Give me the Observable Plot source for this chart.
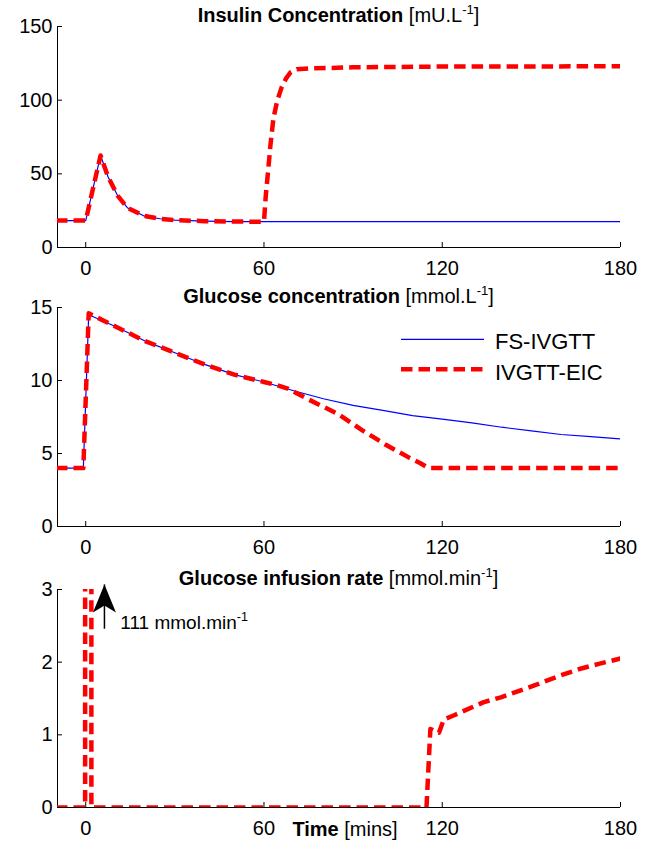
<!DOCTYPE html>
<html>
<head>
<meta charset="utf-8">
<script src="https://cdn.jsdelivr.net/npm/d3@7"></script>
<script src="https://cdn.jsdelivr.net/npm/@observablehq/plot@0.6"></script>
<style>
  body { margin: 0; background: #fff; }
  #chart { width: 666px; height: 852px; position: relative; }
  #chart svg { display: block; }
</style>
</head>
<body>
<div id="chart"></div>
<script>
// ---------- data ----------
const xTicks = [0, 60, 120, 180];
const xDomain = [-9.5, 180];

// Insulin concentration [mU/L]
const insulinTicks = [0, 50, 100, 150];
const insulinFsT = [-10, 0, 5, 7.5, 10.8, 14, 19.5, 25, 30, 40, 50, 60, 180];
const insulinFsV = [18.3, 18.3, 62.5, 48, 35, 27, 21.5, 19.5, 18.6, 17.9, 17.6, 17.5, 17.5];
const insulinEicT = [-10, 0, 5, 7.5, 10.8, 14, 19.5, 25, 30, 40, 50, 60, 60.6, 61.3, 62.2, 63.2, 64.5, 66, 67.5, 69, 71, 75, 90, 120, 180];
const insulinEicV = [18.3, 18.3, 62.5, 48, 35, 27, 21.5, 19.5, 18.6, 17.9, 17.6, 17.5, 35, 50, 70, 88, 100, 109, 115, 119, 121, 121.5, 122.3, 122.8, 123];

// Glucose concentration [mmol/L]
const glucoseTicks = [0, 5, 10, 15];
const glucoseFsT = [-10, -0.8, 1, 10, 20, 30, 40, 50, 60, 70, 80, 90, 100, 110, 120, 130, 140, 150, 160, 170, 180];
const glucoseFsV = [4, 4, 14.5, 13.7, 12.7, 11.9, 11.1, 10.4, 9.9, 9.3, 8.75, 8.3, 7.95, 7.6, 7.35, 7.1, 6.8, 6.55, 6.3, 6.15, 6.0];
const glucoseEicT = [-10, -0.8, 1, 10, 20, 30, 40, 50, 60, 64, 68, 75, 80, 85, 89, 93, 97, 101, 105, 109, 112.5, 115, 116, 180];
const glucoseEicV = [4, 4, 14.6, 13.7, 12.7, 11.9, 11.1, 10.4, 9.9, 9.7, 9.45, 8.7, 8.2, 7.7, 7.15, 6.6, 6.1, 5.6, 5.15, 4.7, 4.35, 4.05, 4.0, 4.0];

// Glucose infusion rate [mmol/min]
const infusionTicks = [0, 1, 2, 3];
const infusionEicT = [-10, -0.2, -0.2, 1.9, 1.9, 114.7, 116, 118.9, 120.5, 124, 134, 140, 151, 160, 166.5, 173, 180];
const infusionEicV = [0, 0, 111, 111, 0, 0, 1.08, 1.03, 1.21, 1.27, 1.45, 1.52, 1.68, 1.82, 1.91, 1.98, 2.05];

// bolus annotation (data coordinates)
const arrowX = [6.3], arrowTip = [3.07], arrowTail = [2.46];
const noteX = [11.8], noteY = [2.45];

const seriesNames = ["FS-IVGTT", "IVGTT-EIC"];

// ---------- helpers ----------
const FONT = '"Liberation Sans", Arial, Helvetica, sans-serif';
const BLUE = "#0000ff", RED = "#ff0000";
const zip = (ts, vs) => ts.map((t, i) => ({t, v: vs[i]}));
const fmt = d3.format("~g");

const fsStyle = {x: "t", y: "v", stroke: BLUE, strokeWidth: 1.2, clip: true};
const eicStyle = {x: "t", y: "v", stroke: RED, strokeWidth: 4.5, strokeDasharray: "11.5,6", strokeLinecap: "butt", strokeLinejoin: "round", clip: true};

function panel({height, marginBottom, yDomain, yTicks, lines, extra = []}) {
  return Plot.plot({
    width: 666, height,
    marginLeft: 57, marginRight: 46, marginTop: 26, marginBottom,
    style: {fontFamily: FONT, fontSize: "20px", color: "#000", background: "#fff", overflow: "visible"},
    x: {domain: xDomain, label: null},
    y: {domain: yDomain, label: null},
    marks: [
      Plot.ruleY([yDomain[0]], {stroke: "#000", strokeWidth: 1}),
      Plot.ruleX([xDomain[0]], {stroke: "#000", strokeWidth: 1}),
      Plot.axisY(yTicks, {tickSize: 5, dx: 5, tickFormat: () => "", label: null}),
      Plot.axisY(yTicks, {tickSize: 0, tickPadding: 5, label: null, fontSize: 20, tickFormat: fmt}),
      Plot.axisX(xTicks, {tickSize: 5, dy: -5, tickFormat: () => "", label: null}),
      Plot.axisX(xTicks, {tickSize: 0, tickPadding: 13, label: null, fontSize: 20, tickFormat: fmt}),
      ...lines,
      ...extra
    ]
  });
}

function addTitle(svg, bold, unit, sup) {
  const t = d3.select(svg).append("text")
    .attr("x", 338.5).attr("y", 22)
    .attr("text-anchor", "middle")
    .attr("font-size", 20).attr("fill", "#000")
    .style("font-family", FONT);
  t.append("tspan").attr("font-weight", "bold").text(bold);
  t.append("tspan").text(" [" + unit);
  t.append("tspan").attr("font-size", 13).attr("dy", -8).text(sup);
  t.append("tspan").attr("dy", 8).text("]");
}

const chart = document.getElementById("chart");

// ---------- panel 1: insulin ----------
const p1 = panel({
  height: 281, marginBottom: 34, yDomain: [0, 150], yTicks: insulinTicks,
  lines: [
    Plot.line(zip(insulinFsT, insulinFsV), fsStyle),
    Plot.line(zip(insulinEicT, insulinEicV), eicStyle)
  ]
});
addTitle(p1, "Insulin Concentration", "mU.L", "-1");
chart.appendChild(p1);

// ---------- panel 2: glucose ----------
const p2 = panel({
  height: 282, marginBottom: 37, yDomain: [0, 15], yTicks: glucoseTicks,
  lines: [
    Plot.line(zip(glucoseFsT, glucoseFsV), fsStyle),
    Plot.line(zip(glucoseEicT, glucoseEicV), eicStyle)
  ]
});
addTitle(p2, "Glucose concentration", "mmol.L", "-1");
{
  const g = d3.select(p2).append("g").style("font-family", FONT).attr("text-anchor", "start");
  g.append("line").attr("x1", 401).attr("x2", 484).attr("y1", 58.3).attr("y2", 58.3)
    .attr("stroke", BLUE).attr("stroke-width", 1.2);
  g.append("line").attr("x1", 401).attr("x2", 484).attr("y1", 88.3).attr("y2", 88.3)
    .attr("stroke", RED).attr("stroke-width", 4.5).attr("stroke-dasharray", "11.5,6");
  g.append("text").attr("x", 495).attr("y", 68.3).attr("text-anchor", "start").attr("font-size", 22).attr("fill", "#000").text(seriesNames[0]);
  g.append("text").attr("x", 495).attr("y", 98.8).attr("text-anchor", "start").attr("font-size", 22).attr("fill", "#000").text(seriesNames[1]);
}
chart.appendChild(p2);

// ---------- panel 3: infusion rate ----------
const arrowHead = {
  draw(ctx) {
    ctx.moveTo(0, 0);
    ctx.lineTo(11.5, 28);
    ctx.lineTo(0, 21);
    ctx.lineTo(-11.5, 28);
    ctx.closePath();
  }
};
const arrowData = arrowX.map((x, i) => ({x, tip: arrowTip[i], tail: arrowTail[i]}));
const p3 = panel({
  height: 289, marginBottom: 45, yDomain: [0, 3], yTicks: infusionTicks,
  lines: [
    Plot.line(zip(infusionEicT, infusionEicV), eicStyle)
  ],
  extra: [
    Plot.link(arrowData, {x1: "x", x2: "x", y1: "tail", y2: "tip", stroke: "#000", strokeWidth: 1.5}),
    Plot.dot(arrowData, {x: "x", y: "tip", symbol: arrowHead, fill: "#000", stroke: "none", r: 5})
  ]
});
addTitle(p3, "Glucose infusion rate", "mmol.min", "-1");
{
  const sx = p3.scale("x"), sy = p3.scale("y");
  const t = d3.select(p3).append("text")
    .attr("x", sx.apply(noteX[0])).attr("y", sy.apply(noteY[0]))
    .attr("text-anchor", "start")
    .attr("font-size", 19).attr("fill", "#000").style("font-family", FONT);
  t.append("tspan").text("111 mmol.min");
  t.append("tspan").attr("font-size", 12.5).attr("dy", -8).text("-1");
  const xl = d3.select(p3).append("text")
    .attr("x", 345).attr("y", 273)
    .attr("text-anchor", "middle")
    .attr("font-size", 20).attr("fill", "#000").style("font-family", FONT);
  xl.append("tspan").attr("font-weight", "bold").text("Time");
  xl.append("tspan").text(" [mins]");
}
chart.appendChild(p3);
</script>
</body>
</html>
